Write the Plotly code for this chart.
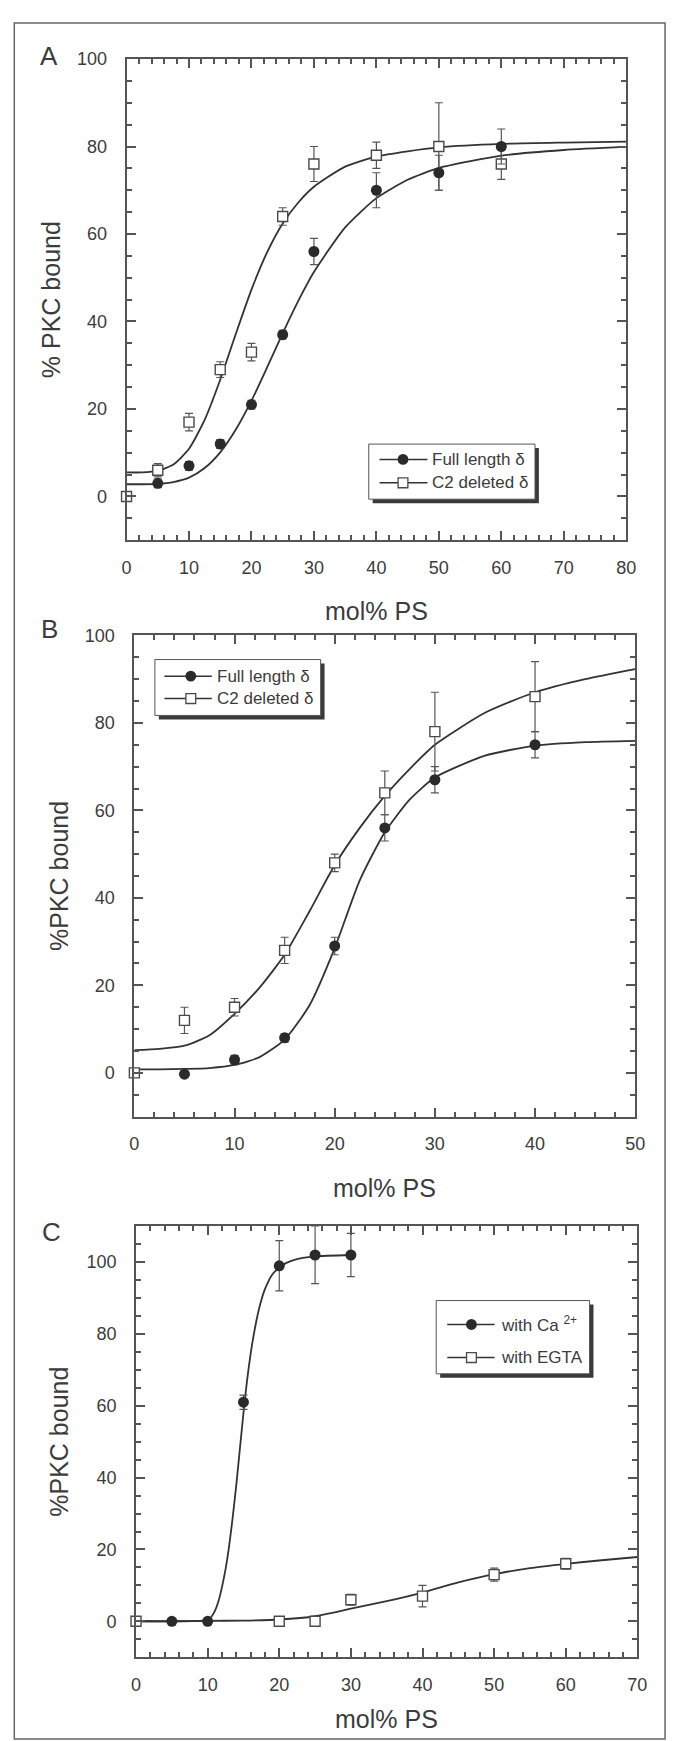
import plotly.graph_objects as go

W, H = 677, 1741

# ---------------- Panel A data ----------------
a_x_full = [5, 10, 15, 20, 25, 30, 40, 50, 60]
a_y_full = [3, 7, 12, 21, 37, 56, 70, 74, 80]
a_e_full = [1, 1, 1, 1, 1, 3, 4, 4, 4]
a_x_c2 = [0, 5, 10, 15, 20, 25, 30, 40, 50, 60]
a_y_c2 = [0, 6, 17, 29, 33, 64, 76, 78, 80, 76]
a_e_c2 = [0, 1.5, 2, 1.8, 2, 2, 4, 3, 10, 3.5]
a_fit_x = [0, 2.5, 5, 7.5, 10, 12.5, 15, 17.5, 20, 22.5, 25, 27.5, 30, 35, 40, 45, 50, 60, 70, 80]
a_fit_full = [2.8, 2.8, 2.9, 3.3, 4.3, 6.5, 10.1, 15.3, 21.9, 29.5, 37.3, 44.7, 51.3, 61.5, 68.2, 72.4, 75.1, 77.9, 79.2, 79.9]
a_fit_c2 = [5.5, 5.5, 5.9, 7.3, 10.9, 17.5, 26.7, 37.2, 47.3, 55.8, 62.4, 67.2, 70.8, 75.4, 77.7, 78.9, 79.8, 80.6, 80.9, 81.1]

# ---------------- Panel B data ----------------
b_x_full = [5, 10, 15, 20, 25, 30, 40]
b_y_full = [-0.3, 3, 8, 29, 56, 67, 75]
b_e_full = [0.5, 1, 1, 2, 3, 3, 3]
b_x_c2 = [0, 5, 10, 15, 20, 25, 30, 40]
b_y_c2 = [0, 12, 15, 28, 48, 64, 78, 86]
b_e_c2 = [0, 3, 2, 3, 2, 5, 9, 8]
b_fit_x = [0, 2.5, 5, 7.5, 10, 12.5, 15, 17.5, 20, 22.5, 25, 27.5, 30, 35, 40, 45, 50]
b_fit_full = [0.8, 0.8, 0.9, 1.1, 1.8, 3.6, 7.6, 15.5, 28.5, 44.0, 55.0, 62.5, 67.5, 72.5, 74.8, 75.6, 75.9]
b_fit_c2 = [5.2, 5.5, 6.2, 8.6, 13.5, 19.5, 27.0, 37.0, 47.5, 56.0, 63.3, 69.5, 75.0, 82.3, 87.0, 90.0, 92.3]

# ---------------- Panel C data ----------------
c_x_ca = [5, 10, 15, 20, 25, 30]
c_y_ca = [0, 0, 61, 99, 102, 102]
c_e_ca = [0.5, 0.5, 2, 7, 8, 6]
c_x_egta = [0, 20, 25, 30, 40, 50, 60]
c_y_egta = [0, 0, 0, 6, 7, 13, 16]
c_e_egta = [0, 0, 0, 1.5, 3, 1.8, 1.5]
c_fit_ca_x = [0, 5, 10, 10.5, 11, 11.5, 12, 12.5, 13, 13.5, 14, 14.5, 15, 15.5, 16, 16.5, 17, 17.5, 18, 19, 20, 21, 22, 25, 30]
c_fit_ca_y = [0, 0, 0.3, 1.2, 2.8, 5.5, 9.5, 14.5, 21, 29, 38, 48, 58, 67, 74.5, 80.5, 85.5, 89.5, 92.5, 96.5, 98.5, 99.8, 100.6, 101.6, 102]
c_fit_egta_x = [0, 5, 10, 15, 20, 25, 30, 35, 40, 45, 50, 55, 60, 65, 70]
c_fit_egta_y = [0, 0, 0.1, 0.2, 0.5, 1.4, 3.5, 5.6, 8.0, 10.8, 13.1, 14.8, 16.0, 17.0, 17.9]

# ---------------- styling ----------------
FONT = "Liberation Sans, Arial, Helvetica, sans-serif"
TXT = "#3c3c3c"
AX = "#555555"
LINE = "#333333"
DOT = "#2a2a2a"


def px(x):
    return x / W


def py(y):
    return 1 - y / H


fig = go.Figure()


def add_panel(xa, ya, fx, fy_list, pts):
    for fy in fy_list:
        fig.add_trace(go.Scatter(x=fx, y=fy, mode="lines", line=dict(color=LINE, width=1.8, shape="spline", smoothing=0.6),
                                 xaxis=xa, yaxis=ya, showlegend=False, hoverinfo="skip"))
    for (x, y, e, kind) in pts:
        if kind == "dot":
            marker = dict(symbol="circle", size=11, color=DOT, line=dict(width=0))
        else:
            marker = dict(symbol="square", size=10, color="white", line=dict(color="#4a4a4a", width=1.4))
        fig.add_trace(go.Scatter(x=x, y=y, mode="markers", marker=marker, cliponaxis=False,
                                 error_y=dict(type="data", array=e, visible=True, color="#555555", thickness=1.2, width=4),
                                 xaxis=xa, yaxis=ya, showlegend=False))


add_panel("x", "y", a_fit_x, [a_fit_full, a_fit_c2],
          [(a_x_c2, a_y_c2, a_e_c2, "sq"), (a_x_full, a_y_full, a_e_full, "dot")])
add_panel("x2", "y2", b_fit_x, [b_fit_full, b_fit_c2],
          [(b_x_c2, b_y_c2, b_e_c2, "sq"), (b_x_full, b_y_full, b_e_full, "dot")])
fig.add_trace(go.Scatter(x=c_fit_ca_x, y=c_fit_ca_y, mode="lines", line=dict(color=LINE, width=1.8, shape="spline", smoothing=0.6),
                         xaxis="x3", yaxis="y3", showlegend=False, hoverinfo="skip"))
add_panel("x3", "y3", c_fit_egta_x, [c_fit_egta_y],
          [(c_x_egta, c_y_egta, c_e_egta, "sq"), (c_x_ca, c_y_ca, c_e_ca, "dot")])


def xaxis(dom, rng, dtick, minor):
    return dict(domain=[px(dom[0]), px(dom[1])], range=rng, dtick=dtick, tick0=0,
                showline=True, linewidth=2, linecolor=AX, mirror="allticks",
                ticks="inside", ticklen=9, tickwidth=2, tickcolor=AX,
                minor=dict(ticks="inside", ticklen=5, tickwidth=1.5, tickcolor=AX, dtick=minor, tick0=0),
                showgrid=False, zeroline=False, ticklabelstandoff=10,
                tickfont=dict(family=FONT, size=18, color=TXT))


def yaxis(dom, rng, minor):
    return dict(domain=[py(dom[1]), py(dom[0])], range=rng, dtick=20, tick0=0,
                showline=True, linewidth=2, linecolor=AX, mirror="allticks",
                ticks="inside", ticklen=9, tickwidth=2, tickcolor=AX,
                minor=dict(ticks="inside", ticklen=5, tickwidth=1.5, tickcolor=AX, dtick=minor, tick0=0),
                showgrid=False, zeroline=False, ticklabelstandoff=14,
                tickfont=dict(family=FONT, size=18, color=TXT))


A_X, A_Y = (124.3, 635.3), (49.3, 533.3)
B_X, B_Y = (132.3, 644.5), (629.0, 1113.0)
C_X, C_Y = (134.0, 646.7), (1223.3, 1656.7)

fig.update_layout(
    width=W, height=H, margin=dict(l=0, r=0, t=0, b=0),
    paper_bgcolor="white", plot_bgcolor="white", showlegend=False,
    font=dict(family=FONT, color=TXT),
    xaxis=dict(xaxis(A_X, [0, 80], 10, 2), anchor="y"),
    yaxis=dict(yaxis(A_Y, [-10, 100], 5), anchor="x"),
    xaxis2=dict(xaxis(B_X, [0, 50], 10, 2), anchor="y2"),
    yaxis2=dict(yaxis(B_Y, [-10, 100], 5), anchor="x2"),
    xaxis3=dict(xaxis(C_X, [0, 70], 10, 2), anchor="y3"),
    yaxis3=dict(yaxis(C_Y, [-10, 110], 5), anchor="x3"),
)

shapes = []
annotations = []

# outer frame
shapes.append(dict(type="rect", xref="paper", yref="paper", x0=px(9.5), x1=px(675), y0=py(1739), y1=py(13),
                   line=dict(color="#666666", width=1.5), fillcolor="rgba(0,0,0,0)", layer="below"))


def legend(box, entries, line_x, mark_x, text_x):
    x0, y0, x1, y1 = box
    shapes.append(dict(type="rect", xref="paper", yref="paper", x0=px(x0 + 4), x1=px(x1 + 4), y0=py(y1 + 4), y1=py(y0 + 4),
                       line=dict(width=0), fillcolor="#3a3a3a"))
    shapes.append(dict(type="rect", xref="paper", yref="paper", x0=px(x0), x1=px(x1), y0=py(y1), y1=py(y0),
                       line=dict(color="#555555", width=1), fillcolor="white"))
    for (y, kind, text) in entries:
        shapes.append(dict(type="line", xref="paper", yref="paper", x0=px(line_x[0]), x1=px(line_x[1]), y0=py(y), y1=py(y),
                           line=dict(color=LINE, width=1.5)))
        if kind == "dot":
            shapes.append(dict(type="circle", xref="paper", yref="paper", x0=px(mark_x - 5.5), x1=px(mark_x + 5.5),
                               y0=py(y + 5.5), y1=py(y - 5.5), line=dict(width=0), fillcolor=DOT))
        else:
            shapes.append(dict(type="rect", xref="paper", yref="paper", x0=px(mark_x - 5), x1=px(mark_x + 5),
                               y0=py(y + 5), y1=py(y - 5), line=dict(color="#4a4a4a", width=1.3), fillcolor="white"))
        annotations.append(dict(xref="paper", yref="paper", x=px(text_x), y=py(y), text=text, showarrow=False,
                                xanchor="left", yanchor="middle", font=dict(family=FONT, size=17, color=TXT)))


legend((372, 436.6, 542, 492), [(452, "dot", "Full length δ"), (475.5, "sq", "C2 deleted δ")], (383, 432), 407, 435)
legend((153.3, 653.3, 322.8, 709.5), [(670, "dot", "Full length δ"), (692.5, "sq", "C2 deleted δ")], (163, 211.5), 190, 215)
legend((441, 1298, 597.8, 1371.7), [(1322, "dot", "with Ca <sup>2+</sup>"), (1355.3, "sq", "with EGTA")], (452.3, 500.7), 477, 505)


def label(x, y, text, size, angle=0):
    annotations.append(dict(xref="paper", yref="paper", x=px(x), y=py(y), text=text, showarrow=False,
                            xanchor="center", yanchor="middle", textangle=angle,
                            font=dict(family=FONT, size=size, color=TXT)))


label(45, 46, "A", 26)
label(45, 623, "B", 26)
label(47.5, 1229, "C", 26)
label(46.6, 291.3, "% PKC bound", 25, -90)
label(380, 604, "mol% PS", 25)
label(55.2, 871, "%PKC bound", 25, -90)
label(388.4, 1185, "mol% PS", 25)
label(55.2, 1440, "%PKC bound", 25, -90)
label(390, 1719, "mol% PS", 25)

fig.update_layout(shapes=shapes, annotations=annotations)

fig.write_html("out.html", config={"displayModeBar": False},
               post_script="document.body.style.margin='0';")
